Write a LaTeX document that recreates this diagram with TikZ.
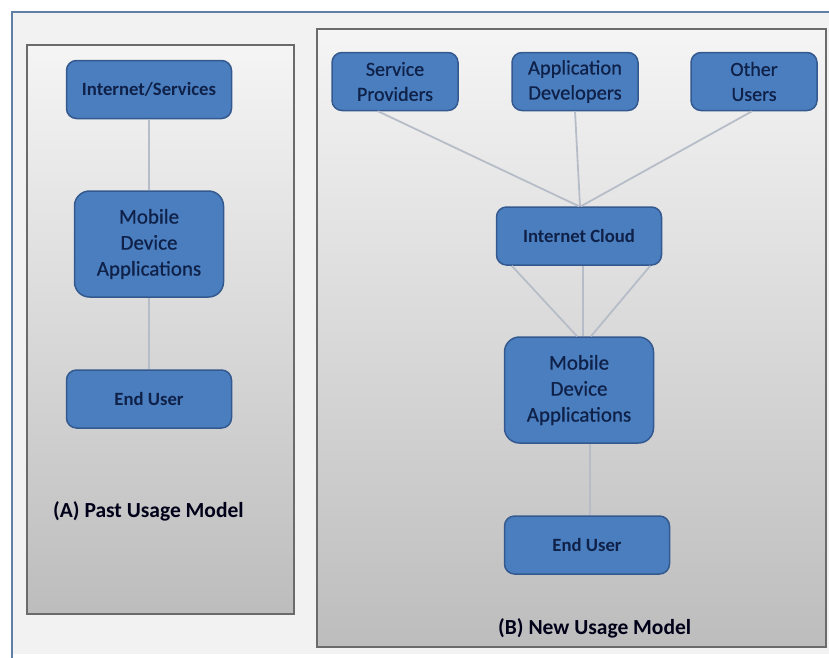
\documentclass[tikz,border=0pt]{standalone}
\usepackage{fontspec}
\setmainfont{Carlito}
\newfontfamily\semibold[FakeBold=0.6]{Carlito}
\definecolor{boxfill}{HTML}{4A7EBF}
\definecolor{boxedge}{HTML}{34598F}
\definecolor{inktext}{HTML}{0F2148}
\definecolor{linkc}{HTML}{B7BDC8}
\definecolor{frameblue}{HTML}{5F7FA6}
\tikzset{
  blockbox/.style={draw=boxedge,line width=1.5pt,fill=boxfill,rounded corners=10pt,
    align=center,inner sep=0pt,text=inktext,font=\semibold\fontsize{21}{26}\selectfont},
  bigbox/.style={blockbox,rounded corners=15pt},
  boldbox/.style={blockbox,font=\fontsize{18.7}{22}\selectfont\bfseries},
  panelbox/.style={draw=black!58,line width=1.4pt,top color=black!4,bottom color=black!26,inner sep=0pt},
  linkline/.style={draw=linkc,line width=1.8pt},
  captiontext/.style={text=black!90!blue,font=\fontsize{21.5}{24}\selectfont\bfseries,inner sep=0pt}
}
\begin{document}
\begin{tikzpicture}[x=1pt,y=-1pt]
\useasboundingbox (0,0) rectangle (829,657);
\fill[white] (0,0) rectangle (829,657);
\fill[black!5] (13,13) rectangle (829,654);
\draw[frameblue,line width=2.4pt] (12,660) -- (12,12) -- (832,12);
% panels
\node[panelbox,minimum width=267pt,minimum height=569pt] (panelA) at (160.5,329.5) {};
\node[panelbox,minimum width=509pt,minimum height=618pt] (panelB) at (571.5,338) {};
% panel A nodes
\node[boldbox,minimum width=165pt,minimum height=58pt] (inet) at (149,89.5) {Internet/Services};
\node[bigbox,minimum width=149pt,minimum height=106pt] (mobA) at (149,244) {Mobile\\Device\\Applications};
\node[boldbox,minimum width=165pt,minimum height=58pt] (endA) at (149,399) {End User};
% panel B nodes
\node[blockbox,minimum width=126pt,minimum height=58pt,font=\semibold\fontsize{20}{25}\selectfont] (sp) at (395,81.5) {Service\\Providers};
\node[blockbox,minimum width=126pt,minimum height=58pt,font=\semibold\fontsize{20.5}{25}\selectfont] (dev) at (575,81.5) {Application\\Developers};
\node[blockbox,minimum width=126pt,minimum height=58pt,font=\semibold\fontsize{20}{25}\selectfont] (other) at (754,81.5) {Other\\Users};
\node[boldbox,minimum width=165pt,minimum height=58pt] (cloud) at (579,236) {Internet Cloud};
\node[bigbox,minimum width=149pt,minimum height=106pt] (mobB) at (579,390) {Mobile\\Device\\Applications};
\node[boldbox,minimum width=165pt,minimum height=58pt] (endB) at (587,545) {End User};
% captions
\node[captiontext,anchor=west] (capA) at (53,511) {(A) Past Usage Model};
\node[captiontext,anchor=west] (capB) at (498,628) {(B) New Usage Model};
% connectors
\draw[linkline] (inet.south) -- (mobA.north);
\draw[linkline] (mobA.south) -- (endA.north);
\draw[linkline] ([xshift=-17pt]sp.south) -- (cloud.north);
\draw[linkline] (dev.south) -- ([xshift=1pt]cloud.north);
\draw[linkline] ([xshift=-2pt]other.south) -- ([xshift=2pt]cloud.north);
\draw[linkline] ([xshift=16pt]cloud.south west) -- ([xshift=-2pt]mobB.north);
\draw[linkline] ([xshift=4pt]cloud.south) -- ([xshift=4pt]mobB.north);
\draw[linkline] ([xshift=-12pt]cloud.south east) -- ([xshift=12pt]mobB.north);
\draw[linkline] ([xshift=11pt]mobB.south) -- ([xshift=3pt]endB.north);
\end{tikzpicture}
\end{document}
